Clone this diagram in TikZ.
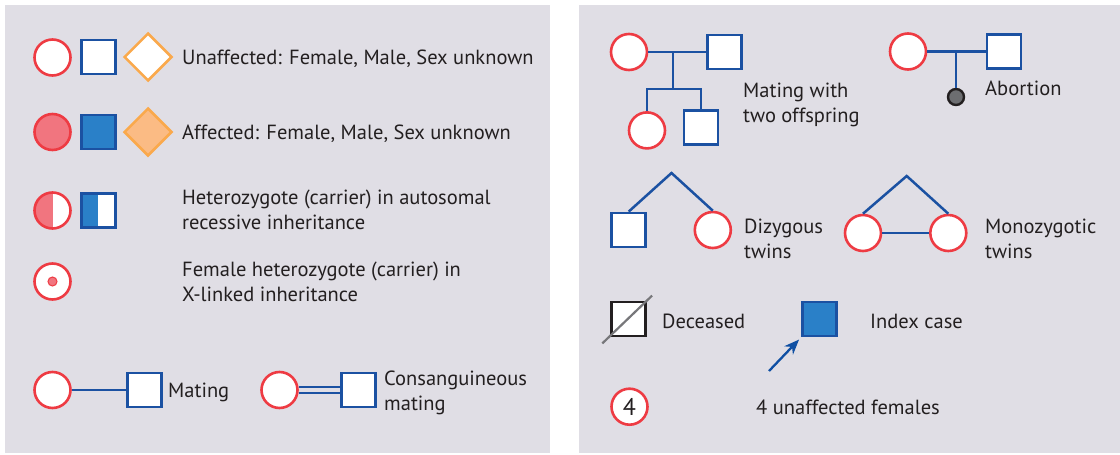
\documentclass[tikz,border=0pt]{standalone}
\usepackage{fontspec}
\setmainfont{PT Sans}
\usepackage{xcolor}
\usepackage{tikz}
\usetikzlibrary{calc, shapes.geometric, positioning, arrows.meta}

\definecolor{panelbg}{HTML}{E0DEE5}
\definecolor{txtdark}{HTML}{231F20}
\definecolor{femred}{HTML}{EE3B43}
\definecolor{femfill}{HTML}{F1757F}
\definecolor{maleblue}{HTML}{1B51A2}
\definecolor{affblue}{HTML}{2A80C8}
\definecolor{unkorange}{HTML}{FAA94C}
\definecolor{unkfill}{HTML}{FBBB84}
\definecolor{abortgrey}{HTML}{6D6E71}
\definecolor{deadgrey}{HTML}{77777A}
\definecolor{arrowblue}{HTML}{0F4FA3}

\begin{document}
\begin{tikzpicture}[x=1pt, y=-1pt, >={Stealth[length=15pt, width=12pt]},
    female/.style={circle, draw=femred, line width=2.6pt, fill=white, minimum size=36pt, inner sep=0pt},
    male/.style={rectangle, draw=maleblue, line width=2.8pt, fill=white, minimum size=34pt, inner sep=0pt},
    unknown/.style={diamond, draw=unkorange, line width=2.5pt, fill=white, minimum size=48pt, inner sep=0pt},
    halffill/.style={path picture={\fill[#1] (path picture bounding box.north west) rectangle (path picture bounding box.south);}},
    lbl/.style={anchor=base west, inner sep=0pt, align=left, text=txtdark, font=\fontsize{20.5}{25}\selectfont},
    link/.style={draw=maleblue, line width=2.5pt}]
    % Khung nền của hai bảng ký hiệu
    \useasboundingbox[fill=white] (0,0) rectangle (1120,455);
    \fill[panelbg] (5,5) rectangle (550,453);
    \fill[panelbg] (579,5) rectangle (1120,453);

    % Bảng trái: không bệnh, có bệnh, người mang gen
    \node[female] (uf) at (52.5,57.5) {};
    \node[male] (um) at (98.3,57) {};
    \node[unknown] (uu) at (148,57) {};
    \node[lbl] (tu) at (182,64) {Unaffected: Female, Male, Sex unknown};

    \node[female, fill=femfill] (af) at (52.5,132) {};
    \node[male, fill=affblue] (am) at (98.3,132) {};
    \node[unknown, fill=unkfill] (au) at (148,132) {};
    \node[lbl] (ta) at (182,139) {Affected: Female, Male, Sex unknown};

    \node[female, halffill=femfill] (hf) at (52.5,210.5) {};
    \node[male, halffill=affblue] (hm) at (98.3,210.5) {};
    \node[lbl] (th) at (182,229) {Heterozygote (carrier) in autosomal\\recessive inheritance};

    \node[female] (xf) at (52.5,281.5) {};
    \node[circle, fill=femfill, draw=femred, line width=1pt, minimum size=9pt, inner sep=0pt] (xdot) at (xf) {};
    \node[lbl] (tx) at (182,301) {Female heterozygote (carrier) in\\X-linked inheritance};

    % Kết hôn và kết hôn cận huyết
    \node[female] (mf) at (52.5,390) {};
    \node[male] (mm) at (144.5,390) {};
    \draw[link, line width=2.1pt] (mf) -- (mm);
    \node[lbl] (tm) at (168,397) {Mating};

    \node[female] (cf) at (279.5,390) {};
    \node[male] (cm) at (358.3,390) {};
    \draw[link, line width=1.9pt, double=panelbg, double distance=3.8pt] (cf) -- (cm);
    \node[lbl] (tc) at (384,410) {Consanguineous\\mating};

    % Bảng phải: kết hôn có hai con
    \node[female] (f1) at (629,52) {};
    \node[male] (m1) at (724.5,52) {};
    \node[female] (c1) at (647,130.4) {};
    \node[male] (c2) at (701,127.5) {};
    \coordinate (sib1) at (673,89);
    \draw[link] (f1) -- (m1);
    \draw[link] (sib1 |- f1) -- (sib1);
    \draw[link] (c1.north) |- (sib1) -| (c2.north);
    \node[lbl] (to) at (743,122) {Mating with\\two offspring};

    % Sảy thai
    \node[female] (f2) at (908,51.5) {};
    \node[male] (m2) at (1004,51.5) {};
    \node[circle, draw=txtdark, fill=abortgrey, line width=2.4pt, minimum size=16pt, inner sep=0pt] (ab) at (956,97) {};
    \draw[link] (f2) -- (m2);
    \draw[link] (ab.north) -- (ab.north |- f2);
    \node[lbl] (tab) at (985,95) {Abortion};

    % Sinh đôi khác trứng và cùng trứng
    \node[male] (dzm) at (628.7,230) {};
    \node[female] (dzf) at (712.8,230) {};
    \coordinate (dzt) at (671.5,173);
    \draw[link] (dzm.north) -- (dzt) -- (dzf.north);
    \node[lbl] (tdz) at (744,258) {Dizygous\\twins};

    \node[female] (mz1) at (863,233) {};
    \node[female] (mz2) at (948.3,233) {};
    \coordinate (mzt) at (906.7,176);
    \draw[link] (mz1.north) -- (mzt) -- (mz2.north);
    \draw[link] (mz1) -- (mz2);
    \node[lbl] (tmz) at (985,258) {Monozygotic\\twins};

    % Đã mất và người chỉ điểm
    \node[male, draw=txtdark] (dec) at (628.7,319) {};
    \draw[deadgrey, line width=2.2pt] ($(dec.south west)+(-8,6)$) -- ($(dec.north east)+(5,-5)$);
    \node[lbl] (tdec) at (662,328) {Deceased};

    \node[male, fill=affblue] (idx) at (819.5,319) {};
    \coordinate (arrtail) at (769,371);
    \draw[->, arrowblue, line width=2.3pt, shorten >=3pt] (arrtail) -- (idx.south west);
    \node[lbl] (tidx) at (870,328) {Index case};

    % Bốn nữ không bệnh
    \node[female, text=txtdark, font=\fontsize{24}{25}\selectfont] (four) at (629.5,406.7) {4};
    \node[lbl] (tfour) at (756,414) {4 unaffected females};
\end{tikzpicture}
\end{document}
